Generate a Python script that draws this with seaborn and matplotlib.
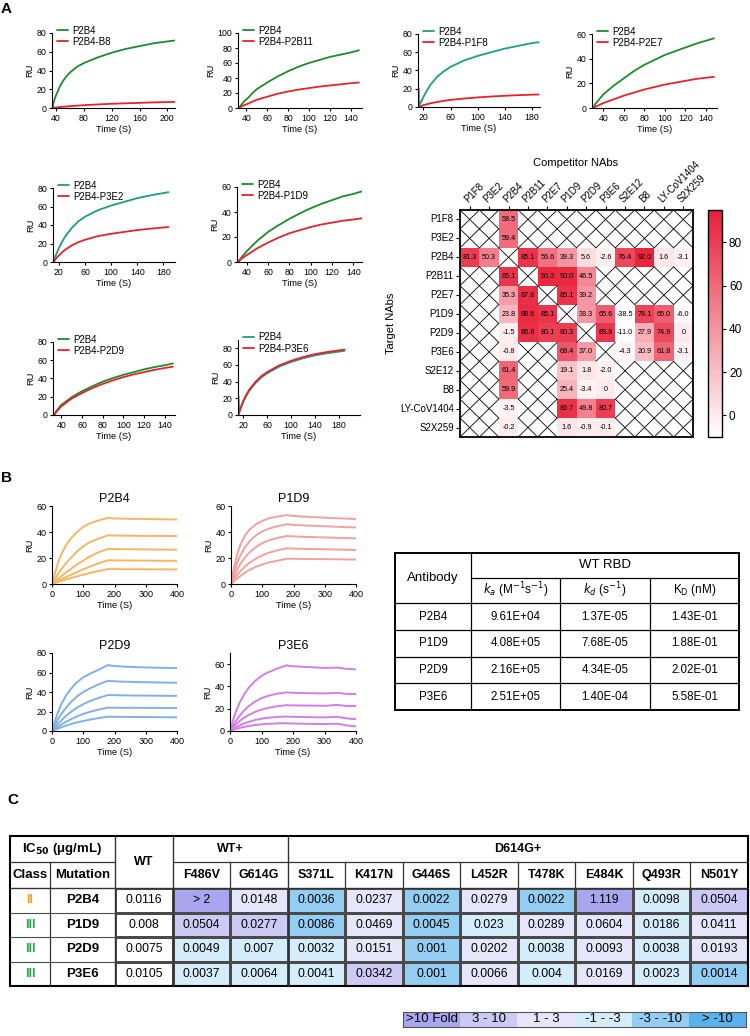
import numpy as np
import pandas as pd
import matplotlib
matplotlib.use("Agg")
import matplotlib.pyplot as plt
import seaborn as sns
from matplotlib.colors import LinearSegmentedColormap, ListedColormap
from matplotlib.patches import Rectangle

# ======================= DATA =======================
# ---- Panel A: competition SPR curves (time in s, RU) ----
a1_time = [35, 36, 38, 40, 43, 46, 50, 55, 60, 70, 80, 100, 120, 140, 160, 180, 200, 210]
a1_p2b4 = [0, 5, 10, 14, 19, 24, 29, 34, 38, 44, 48, 54, 59, 63, 66, 69, 71, 72]
a1_comp = [0, 0.2, 0.4, 0.6, 0.8, 1, 1.3, 1.6, 2, 2.5, 3, 3.8, 4.5, 5, 5.5, 6, 6.3, 6.5]

a2_time = [33, 35, 38, 42, 46, 50, 60, 70, 80, 90, 100, 110, 120, 130, 140, 148]
a2_p2b4 = [0, 4, 9, 14, 20, 25, 34, 42, 49, 55, 60, 64, 68, 71, 74, 77]
a2_comp = [0, 1.8, 3.8, 6, 8.6, 11, 15, 19, 22, 24.5, 26.5, 28.5, 30, 31.5, 33, 34]

a3_time = [13, 13.5, 16, 20, 25, 30, 40, 50, 60, 80, 100, 120, 140, 160, 180, 190]
a3_p2b4 = [21, 1, 5, 11, 18, 24, 33, 39, 44, 51, 56, 60, 64, 67, 70, 71]
a3_comp = [0, 0.2, 0.8, 2, 3, 4, 5.5, 6.8, 7.8, 9.3, 10.5, 11.5, 12.3, 13, 13.5, 13.7]

a4_time = [30, 32, 35, 40, 50, 60, 70, 80, 90, 100, 110, 120, 130, 140, 148]
a4_p2b4 = [0, 3, 6, 11, 18, 24, 30, 35, 39, 43, 46, 49, 52, 54.5, 56.5]
a4_comp = [0, 1, 2, 4, 7, 10, 12.5, 15, 17, 19, 20.5, 22, 23.5, 24.5, 25.2]

a5_time = [12, 14, 17, 20, 25, 30, 40, 50, 60, 80, 100, 120, 140, 160, 180, 188]
a5_p2b4 = [0, 5, 10, 15, 22, 28, 37, 44, 49, 56, 61, 65, 69, 72, 74.5, 75.5]
a5_comp = [0, 2, 5, 7, 10.5, 13.5, 18, 21.5, 24, 28, 30.5, 32.5, 34.5, 36, 37.3, 37.8]

a6_time = [32, 35, 40, 50, 60, 70, 80, 90, 100, 110, 120, 130, 140, 148]
a6_p2b4 = [0, 3.5, 8.5, 17, 24, 29.5, 34.5, 39, 43, 46.5, 49.5, 52.5, 54.5, 56.5]
a6_comp = [0, 2.5, 5.5, 11, 15.5, 19.5, 23, 25.5, 28, 30, 31.5, 33, 34, 35]

a7_time = [33, 35, 40, 50, 60, 70, 80, 90, 100, 110, 120, 130, 140, 148]
a7_p2b4 = [0, 4, 11, 19.5, 26, 31.5, 36.5, 40.5, 44, 47, 50, 52.5, 54.5, 56.5]
a7_comp = [0, 3, 9.5, 18, 24, 29.5, 34, 38, 41.5, 44.5, 47, 49.5, 51.5, 53]

a8_time = [12, 12.5, 15, 20, 25, 30, 40, 50, 60, 80, 100, 120, 140, 160, 180, 190]
a8_p2b4 = [0, 1.5, 7, 16, 23, 29, 38, 45, 50, 58, 63.5, 68, 71.5, 74, 76, 77]
a8_comp = [22, 2, 8, 17, 24.5, 30.5, 39.5, 46.5, 51.5, 59.5, 65, 69.5, 73, 75.5, 77.5, 78.5]

a_competitors = ["P2B4-B8", "P2B4-P2B11", "P2B4-P1F8", "P2B4-P2E7",
                 "P2B4-P3E2", "P2B4-P1D9", "P2B4-P2D9", "P2B4-P3E6"]

# ---- Panel A: competition matrix (% inhibition) ----
nabs = ["P1F8", "P3E2", "P2B4", "P2B11", "P2E7", "P1D9", "P2D9", "P3E6",
        "S2E12", "B8", "LY-CoV1404", "S2X259"]
n = np.nan
comp_p1f8 = [n, n, 58.5, n, n, n, n, n, n, n, n, n]
comp_p3e2 = [n, n, 59.4, n, n, n, n, n, n, n, n, n]
comp_p2b4 = [81.3, 50.3, n, 85.1, 56.6, 39.3, 5.6, -2.6, 76.4, 92.0, 1.6, -3.1]
comp_p2b11 = [n, n, 85.1, n, 90.3, 90.0, 46.5, n, n, n, n, n]
comp_p2e7 = [n, n, 35.3, 87.8, n, 85.1, 39.2, n, n, n, n, n]
comp_p1d9 = [n, n, 23.8, 88.6, 85.1, n, 38.3, 65.6, -38.5, 78.1, 65.0, -6.0]
comp_p2d9 = [n, n, -1.5, 86.8, 80.1, 80.3, n, 83.8, -11.0, 27.9, 74.9, 0]
comp_p3e6 = [n, n, -0.8, n, n, 68.4, 37.0, n, -4.3, 20.9, 61.8, -3.1]
comp_s2e12 = [n, n, 61.4, n, n, 19.1, 1.8, -2.0, n, n, n, n]
comp_b8 = [n, n, 59.9, n, n, 25.4, -3.4, 0, n, n, n, n]
comp_ly = [n, n, -3.5, n, n, 86.7, 49.8, 80.7, n, n, n, n]
comp_s2x259 = [n, n, -0.2, n, n, 1.6, -0.9, -0.1, n, n, n, n]

# ---- Panel B: kinetics sensorgrams (5 concentrations each) ----
b_time = [0, 10, 20, 30, 45, 60, 80, 100, 120, 150, 180, 190, 220, 260, 300, 340, 370, 400]
b_p2b4 = [
    [0, 9, 17, 23, 30, 35, 40, 44, 46.5, 49, 51, 50.5, 50.3, 50.1, 50, 49.8, 49.7, 49.6],
    [0, 4, 8, 11.5, 16, 20, 25, 29, 32, 35, 37.5, 37.3, 37.2, 37.1, 37, 37, 36.9, 36.9],
    [0, 2, 4, 6, 9, 11.5, 15, 18, 21, 24.5, 27, 26.9, 26.8, 26.7, 26.6, 26.5, 26.5, 26.4],
    [0, 1.2, 2.4, 3.6, 5.3, 7, 9.2, 11.3, 13.3, 16, 18.3, 18.2, 18.1, 18, 18, 17.9, 17.9, 17.8],
    [0, 0.8, 1.6, 2.3, 3.4, 4.5, 5.9, 7.2, 8.4, 10, 11.5, 11.5, 11.4, 11.4, 11.3, 11.3, 11.2, 11.2],
]
b_p1d9 = [
    [0, 13, 23, 30, 37.5, 42, 46, 48.5, 50.5, 52, 53, 52.6, 52, 51.5, 51, 50.6, 50.3, 50],
    [0, 9, 16.5, 22, 28.5, 33, 37.5, 40.5, 42.5, 44.5, 46, 45.6, 45.2, 44.8, 44.4, 44, 43.7, 43.5],
    [0, 6, 11, 15.5, 20.5, 24.5, 28.5, 31.5, 33.5, 35.5, 37, 36.7, 36.4, 36.1, 35.8, 35.5, 35.3, 35.1],
    [0, 3.5, 7, 10, 13.5, 16.5, 19.5, 22, 24, 26, 27.5, 27.3, 27.1, 26.9, 26.7, 26.5, 26.3, 26.2],
    [0, 2.2, 4.3, 6.2, 8.8, 11, 13.3, 15, 16.5, 18, 19.5, 19.4, 19.3, 19.2, 19.1, 19, 18.9, 18.8],
]
b_p2d9 = [
    [0, 11, 20, 27.5, 36.5, 43, 50, 55, 58.5, 63, 67.7, 67, 66.2, 65.6, 65.2, 64.9, 64.7, 64.6],
    [0, 6.5, 12.5, 17.5, 24, 29.5, 35.5, 40, 43.5, 48, 51.6, 51.2, 50.7, 50.3, 50, 49.8, 49.6, 49.5],
    [0, 4, 7.5, 11, 15.5, 19.5, 24, 27.5, 30.5, 34, 37, 36.8, 36.6, 36.4, 36.3, 36.2, 36.1, 36],
    [0, 2.3, 4.5, 6.5, 9.5, 12, 15, 17.5, 19.5, 22, 24, 23.9, 23.8, 23.8, 23.7, 23.7, 23.6, 23.6],
    [0, 1.3, 2.6, 3.8, 5.5, 7, 8.8, 10.3, 11.6, 13.3, 14.7, 14.6, 14.5, 14.4, 14.3, 14.2, 14.1, 14],
]
b_p3e6 = [
    [0, 10, 18.5, 25, 33, 39, 45, 49.5, 52.5, 56, 59, 58.3, 57.8, 57.2, 56.6, 56.9, 55.8, 55.3],
    [0, 5, 9.5, 13.5, 18.5, 22.5, 26.5, 29.5, 31.5, 33.5, 34.7, 34.4, 34.1, 33.9, 33.7, 34.3, 33.3, 33.2],
    [0, 3.2, 6.2, 8.8, 12, 14.5, 17.2, 19.2, 20.7, 22.2, 23.2, 23, 22.9, 22.8, 22.6, 23.4, 22.5, 22.4],
    [0, 1.8, 3.5, 5, 6.8, 8.3, 9.9, 11, 11.9, 12.6, 13, 12.8, 12.6, 12.4, 12.2, 12.8, 11.3, 10.6],
    [0, 1, 1.9, 2.7, 3.7, 4.5, 5.4, 6, 6.4, 6.8, 7, 6.8, 6.6, 6.4, 6.2, 6.6, 5, 4.1],
]

# ---- Panel B: kinetics table ----
kin_ab = ["P2B4", "P1D9", "P2D9", "P3E6"]
kin_ka = ["9.61E+04", "4.08E+05", "2.16E+05", "2.51E+05"]
kin_kd = ["1.37E-05", "7.68E-05", "4.34E-05", "1.40E-04"]
kin_KD = ["1.43E-01", "1.88E-01", "2.02E-01", "5.58E-01"]

# ---- Panel C: IC50 table ----
ic_mabs = ["P2B4", "P1D9", "P2D9", "P3E6"]
ic_class = ["II", "III", "III", "III"]
ic_cols = ["WT", "F486V", "G614G", "S371L", "K417N", "G446S", "L452R",
           "T478K", "E484K", "Q493R", "N501Y"]
ic_p2b4 = ["0.0116", "> 2", "0.0148", "0.0036", "0.0237", "0.0022", "0.0279", "0.0022", "1.119", "0.0098", "0.0504"]
ic_p1d9 = ["0.008", "0.0504", "0.0277", "0.0086", "0.0469", "0.0045", "0.023", "0.0289", "0.0604", "0.0186", "0.0411"]
ic_p2d9 = ["0.0075", "0.0049", "0.007", "0.0032", "0.0151", "0.001", "0.0202", "0.0038", "0.0093", "0.0038", "0.0193"]
ic_p3e6 = ["0.0105", "0.0037", "0.0064", "0.0041", "0.0342", "0.001", "0.0066", "0.004", "0.0169", "0.0023", "0.0014"]
fold_labels = [">10 Fold", "3 - 10", "1 - 3", "-1 - -3", "-3 - -10", "> -10"]

# ======================= STYLE =======================
sns.set_theme(style="ticks")
plt.rcParams["font.family"] = ["Liberation Sans", "DejaVu Sans"]
plt.rcParams["axes.edgecolor"] = "black"
plt.rcParams["axes.linewidth"] = 0.8
plt.rcParams["xtick.color"] = "black"
plt.rcParams["ytick.color"] = "black"
plt.rcParams["text.color"] = "black"
plt.rcParams["axes.labelcolor"] = "black"

GREEN = "#1e8a2e"
TEAL = "#1f9e7c"
RED = "#e4232b"

W, H = 750, 1036
fig = plt.figure(figsize=(W / 100, H / 100), dpi=100)


def pxax(x0, y0, x1, y1):
    return fig.add_axes([x0 / W, 1 - y1 / H, (x1 - x0) / W, (y1 - y0) / H])


def style_ax(ax, labelsize=6.3):
    sns.despine(ax=ax)
    for s in ("left", "bottom"):
        ax.spines[s].set_linewidth(0.8)
        ax.spines[s].set_color("black")
    ax.tick_params(labelsize=labelsize, length=2.5, width=0.8, pad=1.5)


# overlay for free text / tables
ov = fig.add_axes([0, 0, 1, 1], zorder=5)
ov.set_xlim(0, W)
ov.set_ylim(H, 0)
ov.axis("off")

# ======================= PANEL A curves =======================
a_series = [
    (a1_time, a1_p2b4, a1_comp), (a2_time, a2_p2b4, a2_comp),
    (a3_time, a3_p2b4, a3_comp), (a4_time, a4_p2b4, a4_comp),
    (a5_time, a5_p2b4, a5_comp), (a6_time, a6_p2b4, a6_comp),
    (a7_time, a7_p2b4, a7_comp), (a8_time, a8_p2b4, a8_comp),
]
a_layout = [
    dict(box=(52, 33, 175, 108), col=GREEN, xlim=(34, 211), xt=range(40, 201, 40), ylim=(0, 80), yt=range(0, 81, 20)),
    dict(box=(238, 33, 362, 108), col=GREEN, xlim=(32, 151), xt=range(40, 141, 20), ylim=(0, 100), yt=range(0, 101, 20)),
    dict(box=(418, 34, 540, 107), col=TEAL, xlim=(12, 192), xt=range(20, 181, 40), ylim=(0, 80), yt=range(0, 81, 20)),
    dict(box=(592, 34, 717, 108), col=GREEN, xlim=(29, 151), xt=range(40, 141, 20), ylim=(0, 60), yt=range(0, 61, 20)),
    dict(box=(53, 188, 175, 262), col=TEAL, xlim=(11, 198), xt=range(20, 181, 40), ylim=(0, 80), yt=range(0, 81, 20)),
    dict(box=(237, 187, 362, 262), col=GREEN, xlim=(31, 148), xt=range(40, 141, 20), ylim=(0, 60), yt=range(0, 61, 20)),
    dict(box=(53, 342, 175, 415), col=GREEN, xlim=(32, 150), xt=range(40, 141, 20), ylim=(0, 80), yt=range(0, 81, 20)),
    dict(box=(238, 340, 360, 415), col=TEAL, xlim=(11, 216), xt=range(20, 181, 40), ylim=(0, 90), yt=range(0, 81, 20)),
]
for (t, ref, cmp_), lab, lay in zip(a_series, a_competitors, a_layout):
    ax = pxax(*lay["box"])
    sns.lineplot(x=t, y=ref, ax=ax, color=lay["col"], lw=1.3, label="P2B4",
                 estimator=None, sort=False)
    sns.lineplot(x=t, y=cmp_, ax=ax, color=RED, lw=1.3, label=lab,
                 estimator=None, sort=False)
    ax.set_xlim(*lay["xlim"])
    ax.set_ylim(*lay["ylim"])
    ax.set_xticks(list(lay["xt"]))
    ax.set_yticks(list(lay["yt"]))
    style_ax(ax)
    ax.set_xlabel("Time (S)", fontsize=6.7, labelpad=1.5)
    ax.set_ylabel("RU", fontsize=6.7, labelpad=1.5)
    ax.legend(loc="upper left", bbox_to_anchor=(0.04, 1.1), frameon=False,
              fontsize=7, handlelength=1.1, handletextpad=0.5,
              labelspacing=0.12, borderaxespad=0, borderpad=0)

# ======================= PANEL A heatmap =======================
comp_rows = [comp_p1f8, comp_p3e2, comp_p2b4, comp_p2b11, comp_p2e7, comp_p1d9,
             comp_p2d9, comp_p3e6, comp_s2e12, comp_b8, comp_ly, comp_s2x259]
hm_df = pd.DataFrame(comp_rows, index=nabs, columns=nabs, dtype=float)
vals = hm_df.to_numpy()
annot = np.array([["" if np.isnan(v) else ("0" if v == 0 else f"{v:.1f}") for v in row]
                  for row in vals])
axh = pxax(460, 210, 693, 437)
axc = pxax(708, 210, 722, 437)
cmap_red = LinearSegmentedColormap.from_list("wr", ["#ffffff", "#e81f38"])
sns.heatmap(hm_df, ax=axh, cbar_ax=axc, cmap=cmap_red, vmin=-10, vmax=95,
            annot=annot, fmt="", annot_kws={"fontsize": 5.2, "color": "black"},
            linewidths=0)
axh.set_facecolor("white")
nr, nc = vals.shape
for i in range(nr):
    for j in range(nc):
        if np.isnan(vals[i, j]):
            axh.plot([j, j + 1], [i, i + 1], color="black", lw=0.6)
            axh.plot([j, j + 1], [i + 1, i], color="black", lw=0.6)
for sp in axh.spines.values():
    sp.set_visible(True)
    sp.set_linewidth(1.3)
    sp.set_color("black")
axh.xaxis.tick_top()
axh.set_xticks(np.arange(nc) + 0.5)
axh.set_xticklabels(nabs, rotation=45, ha="left", rotation_mode="anchor", fontsize=7)
axh.set_yticks(np.arange(nr) + 0.5)
axh.set_yticklabels(nabs, rotation=0, fontsize=7)
axh.tick_params(axis="x", top=True, bottom=False, length=3, width=0.8, pad=1)
axh.tick_params(axis="y", left=True, length=3, width=0.8, pad=1.5)
axh.set_xlabel("")
axh.set_ylabel("Target NAbs", fontsize=8, labelpad=3)
cb = axh.collections[0].colorbar
cb.set_ticks([0, 20, 40, 60, 80])
cb.ax.tick_params(labelsize=8.5, length=3, width=0.8, pad=2)
cb.outline.set_linewidth(1.0)
cb.outline.set_edgecolor("black")
ov.text(576, 163, "Competitor NAbs", ha="center", va="center", fontsize=8)

# ======================= PANEL B sensorgrams =======================
b_sets = [
    ("P2B4", b_p2b4, "#f6b566", (52, 506, 177, 584), (0, 60), range(0, 61, 20)),
    ("P1D9", b_p1d9, "#f2a19f", (231, 506, 356, 584), (0, 60), range(0, 61, 20)),
    ("P2D9", b_p2d9, "#7fb1e7", (52, 653, 177, 731), (0, 80), range(0, 81, 20)),
    ("P3E6", b_p3e6, "#d27ee6", (230, 653, 356, 731), (0, 70), range(0, 61, 20)),
]
for title, curves, col, box, ylim, yt in b_sets:
    ax = pxax(*box)
    df = pd.DataFrame({
        "t": b_time * len(curves),
        "RU": [v for c in curves for v in c],
        "conc": [f"c{k}" for k, c in enumerate(curves) for _ in c],
    })
    sns.lineplot(data=df, x="t", y="RU", hue="conc", palette=[col] * len(curves),
                 legend=False, lw=1.4, estimator=None, ax=ax)
    ax.set_xlim(0, 400)
    ax.set_ylim(*ylim)
    ax.set_xticks(range(0, 401, 100))
    ax.set_yticks(list(yt))
    style_ax(ax, labelsize=6.5)
    ax.set_title(title, fontsize=9, pad=3)
    ax.set_xlabel("Time (S)", fontsize=6.7, labelpad=1.5)
    ax.set_ylabel("RU", fontsize=6.7, labelpad=1.5)

# ======================= PANEL B table =======================
tx0, tx1 = 395, 739
tcols = [395, 471, 560, 650, 739]
trows = [553, 578, 603, 630, 657, 683, 710]
ov.add_patch(Rectangle((tx0, trows[0]), tx1 - tx0, trows[-1] - trows[0],
                       fill=False, lw=1.4, ec="black"))
ov.plot([tcols[1], tcols[1]], [trows[0], trows[-1]], color="black", lw=0.9)
for xc in tcols[2:4]:
    ov.plot([xc, xc], [trows[1], trows[-1]], color="black", lw=0.9)
ov.plot([tcols[1], tx1], [trows[1], trows[1]], color="black", lw=0.9)
for yr in trows[2:-1]:
    ov.plot([tx0, tx1], [yr, yr], color="black", lw=0.9)
ov.text((tcols[0] + tcols[1]) / 2, trows[1], "Antibody", ha="center", va="center", fontsize=9.5)
ov.text((tcols[1] + tcols[4]) / 2, (trows[0] + trows[1]) / 2, "WT RBD", ha="center", va="center", fontsize=9.5)
sub_hdr = [r"$k_a$ (M$^{-1}$s$^{-1}$)", r"$k_d$ (s$^{-1}$)", r"K$_\mathrm{D}$ (nM)"]
for k, h in enumerate(sub_hdr):
    ov.text((tcols[k + 1] + tcols[k + 2]) / 2, (trows[1] + trows[2]) / 2, h,
            ha="center", va="center", fontsize=8.5)
for r, row in enumerate(zip(kin_ab, kin_ka, kin_kd, kin_KD)):
    yc = (trows[r + 2] + trows[r + 3]) / 2
    for k, s in enumerate(row):
        ov.text((tcols[k] + tcols[k + 1]) / 2, yc, s, ha="center", va="center", fontsize=8.3)

# ======================= PANEL C table =======================
ic_rows = [ic_p2b4, ic_p1d9, ic_p2d9, ic_p3e6]


def fold_cat(vals_row):
    nums = [float(s.replace(">", "").strip()) for s in vals_row]
    cats = [0]
    for j in range(1, len(nums)):
        base = nums[0] if j <= 2 else nums[2]
        f = nums[j] / base
        if f >= 10:
            c = 1
        elif f >= 3:
            c = 2
        elif f >= 1:
            c = 3
        elif f > 1 / 3:
            c = 4
        elif f > 1 / 10:
            c = 5
        else:
            c = 6
        cats.append(c)
    return cats


cat_mat = np.array([fold_cat(r) for r in ic_rows])
fold_colors = ["#ffffff", "#a9a5ef", "#cdc9f5", "#e7e5fa", "#d5ecfb", "#93cdf2", "#58b3ec"]
fold_cmap = ListedColormap(fold_colors)

cx_left, cx_cls, cx_body, cx_right = 10, 50, 115, 748
cy_top, cy_r1, cy_r2, cy_bot = 836, 862, 888, 986
axt = pxax(cx_body, cy_r2, cx_right, cy_bot)
sns.heatmap(pd.DataFrame(cat_mat, index=ic_mabs, columns=ic_cols), ax=axt,
            cmap=fold_cmap, vmin=-0.5, vmax=6.5, cbar=False,
            annot=np.array(ic_rows), fmt="", annot_kws={"fontsize": 8.7, "color": "black"},
            linewidths=0.8, linecolor="#4a4a4a", xticklabels=False, yticklabels=False)
axt.set_xlabel("")
axt.set_ylabel("")

col_edges = np.linspace(cx_body, cx_right, len(ic_cols) + 1)
row_h = (cy_bot - cy_r2) / len(ic_mabs)
# header lines
ov.add_patch(Rectangle((cx_left, cy_top), cx_right - cx_left, cy_bot - cy_top,
                       fill=False, lw=1.5, ec="black"))
ov.plot([cx_left, cx_body], [cy_r1, cy_r1], color="#333333", lw=0.9)
ov.plot([col_edges[1], cx_right], [cy_r1, cy_r1], color="#333333", lw=0.9)
ov.plot([cx_left, cx_right], [cy_r2, cy_r2], color="#333333", lw=1.0)
ov.plot([cx_body, cx_body], [cy_top, cy_bot], color="#333333", lw=1.0)
for k in (1, 3):
    ov.plot([col_edges[k], col_edges[k]], [cy_top, cy_bot], color="#333333", lw=1.0)
for k in (2,) + tuple(range(4, len(col_edges) - 1)):
    ov.plot([col_edges[k], col_edges[k]], [cy_r1, cy_r2], color="#333333", lw=0.9)
ov.plot([cx_cls, cx_cls], [cy_r1, cy_bot], color="#333333", lw=0.9)
for r in range(1, len(ic_mabs)):
    yy = cy_r2 + r * row_h
    ov.plot([cx_left, cx_body], [yy, yy], color="#4a4a4a", lw=0.8)
# header text
ov.text((cx_left + cx_body) / 2, (cy_top + cy_r1) / 2, r"IC$_{\mathbf{50}}$ (μg/mL)",
        ha="center", va="center", fontsize=9.5, fontweight="bold")
ov.text((cx_left + cx_cls) / 2, (cy_r1 + cy_r2) / 2, "Class", ha="center", va="center",
        fontsize=9.5, fontweight="bold")
ov.text((cx_cls + cx_body) / 2, (cy_r1 + cy_r2) / 2, "Mutation", ha="center", va="center",
        fontsize=9.5, fontweight="bold")
ov.text((col_edges[0] + col_edges[1]) / 2, (cy_top + cy_r2) / 2, ic_cols[0],
        ha="center", va="center", fontsize=9, fontweight="bold")
ov.text((col_edges[1] + col_edges[3]) / 2, (cy_top + cy_r1) / 2, "WT+",
        ha="center", va="center", fontsize=9, fontweight="bold")
ov.text((col_edges[3] + col_edges[-1]) / 2, (cy_top + cy_r1) / 2, "D614G+",
        ha="center", va="center", fontsize=9, fontweight="bold")
for k in range(1, len(ic_cols)):
    ov.text((col_edges[k] + col_edges[k + 1]) / 2, (cy_r1 + cy_r2) / 2, ic_cols[k],
            ha="center", va="center", fontsize=9, fontweight="bold")
class_colors = {"II": "#f0a21e", "III": "#2aa84a"}
for r, (cl, mab) in enumerate(zip(ic_class, ic_mabs)):
    yc = cy_r2 + (r + 0.5) * row_h
    ov.text((cx_left + cx_cls) / 2, yc, cl, ha="center", va="center", fontsize=9,
            fontweight="bold", color=class_colors[cl])
    ov.text((cx_cls + cx_body) / 2, yc, mab, ha="center", va="center", fontsize=9.5,
            fontweight="bold")

# fold-change legend
axl = pxax(403, 1012, 746, 1027)
sns.heatmap(pd.DataFrame([list(range(1, 7))]), ax=axl, cmap=fold_cmap, vmin=-0.5, vmax=6.5,
            cbar=False, annot=np.array([fold_labels]), fmt="",
            annot_kws={"fontsize": 9.5, "color": "black"}, linewidths=0,
            xticklabels=False, yticklabels=False)
for sp in axl.spines.values():
    sp.set_visible(True)
    sp.set_linewidth(0.8)
    sp.set_color("#555555")

# panel letters
for lab, (x, y) in {"A": (6, 9), "B": (6, 478), "C": (13, 800)}.items():
    ov.text(x, y, lab, ha="center", va="center", fontsize=11, fontweight="bold")

fig.savefig("out.png", dpi=100)
